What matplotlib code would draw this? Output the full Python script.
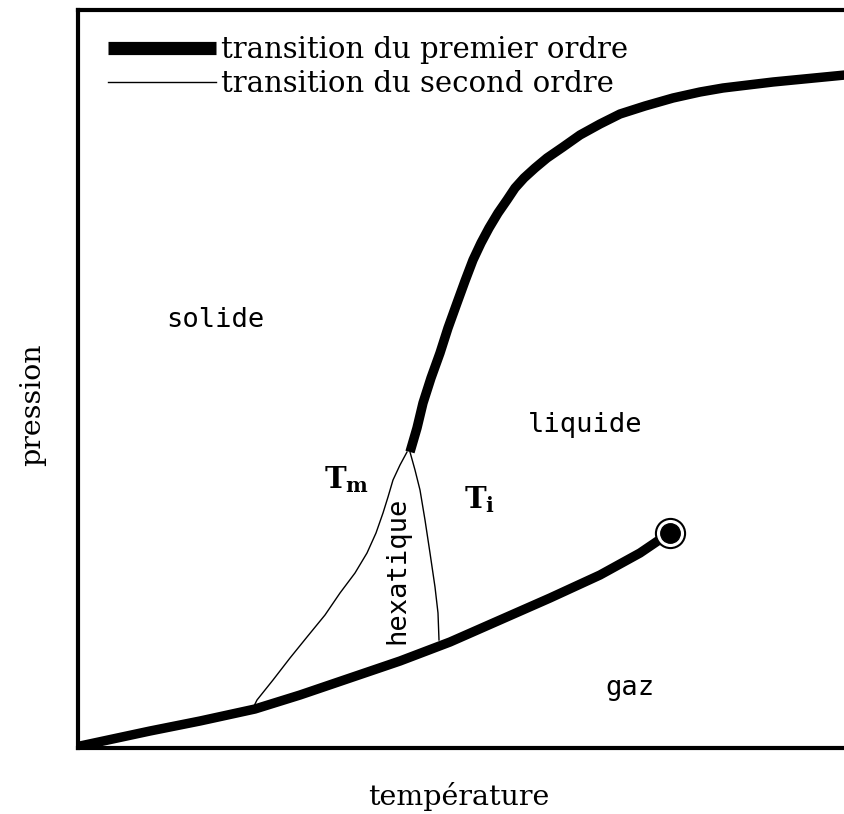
import matplotlib.pyplot as plt

# diagramme de phase (unites arbitraires)
t_bas = [2, 72, 122, 177, 222, 272, 322, 372, 422, 472, 522, 562, 590]
p_bas = [2, 17, 27, 39, 53, 70, 87, 106, 128, 150, 173, 195, 214]

t_fusion = [332, 339, 345, 353, 362, 370, 379, 387, 395, 403, 411, 420, 429, 437,
            446, 457, 469, 485, 502, 522, 542, 567, 595, 622, 645, 695, 767]
p_fusion = [296, 320, 345, 370, 395, 420, 445, 467, 488, 505, 520, 535, 548, 560,
            570, 580, 590, 601, 613, 624, 634, 642, 650, 656, 660, 666, 673]

t_tm = [329, 322, 315, 310, 305, 298, 289, 277, 262, 247, 229, 212, 195, 179, 175]
p_tm = [296, 283, 268, 251, 235, 215, 195, 175, 155, 133, 111, 90, 68, 48, 40]

t_ti = [332, 337, 342, 347, 352, 357, 360, 361]
p_ti = [296, 278, 258, 228, 195, 161, 135, 108]

t_crit, p_crit = 592, 215

plt.rcParams['mathtext.fontset'] = 'dejavuserif'

fig = plt.figure(figsize=(8.45, 8.14), dpi=100)
ax = fig.add_axes([78 / 845, 66 / 814, 1 - 78 / 845, 738 / 814])

ax.plot(t_bas, p_bas, color="black", lw=6.8, solid_capstyle="butt",
        solid_joinstyle="round", label="transition du premier ordre")
ax.plot(t_fusion, p_fusion, color="black", lw=6.8, solid_capstyle="butt",
        solid_joinstyle="round")
ax.plot(t_tm, p_tm, color="black", lw=1.0, label="transition du second ordre")
ax.plot(t_ti, p_ti, color="black", lw=1.0)

ax.plot([t_crit], [p_crit], "o", ms=21, mfc="white", mec="black", mew=1.5, zorder=5)
ax.plot([t_crit], [p_crit], "o", ms=14, mfc="black", mec="black", zorder=6)

mono = dict(family="DejaVu Sans Mono", fontsize=19.5, ha="center", va="center")
ax.text(137, 428, "solide", **mono)
ax.text(507, 323, "liquide", **mono)
ax.text(552, 60, "gaz", **mono)
ax.text(319, 178, "hexatique", rotation=90, **mono)
ax.text(269, 268, r"$\mathbf{T_m}$", fontsize=21, ha="center", va="center")
ax.text(402, 248, r"$\mathbf{T_i}$", fontsize=21, ha="center", va="center")

leg = ax.legend(loc="upper left", bbox_to_anchor=(0.039, 0.965), frameon=False,
                borderpad=0, borderaxespad=0,
                handlelength=3.7, handletextpad=0.17, labelspacing=0.22,
                prop={"family": "DejaVu Serif", "size": 21})
leg.get_lines()[0].set_linewidth(9.5)

ax.set_xlim(0, 767)
ax.set_ylim(0, 738)
ax.set_xticks([])
ax.set_yticks([])
ax.spines["right"].set_visible(False)
for s in ["left", "top", "bottom"]:
    ax.spines[s].set_linewidth(3)

ax.set_xlabel("température", family="DejaVu Serif", fontsize=20.5, va="center")
ax.set_ylabel("pression", family="DejaVu Serif", fontsize=20.5, va="center")
ax.xaxis.set_label_coords(0.497, -0.066)
ax.yaxis.set_label_coords(-0.059, 0.465)

fig.savefig("out.png", dpi=100)
plt.close()
